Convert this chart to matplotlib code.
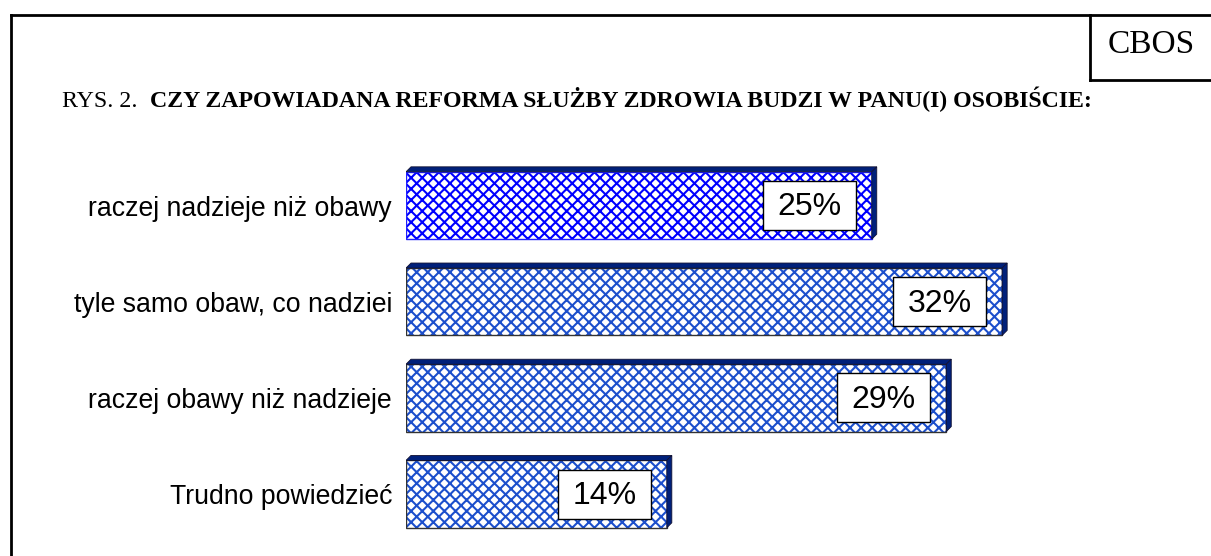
import matplotlib.pyplot as plt
from matplotlib.patches import Polygon, Rectangle
from matplotlib.lines import Line2D

categories = ['raczej nadzieje niż obawy', 'tyle samo obaw, co nadziei',
              'raczej obawy niż nadzieje', 'Trudno powiedzieć']
values = [25, 32, 29, 14]
value_labels = ['25%', '32%', '29%', '14%']

title_prefix = 'RYS. 2.'
title_main = 'CZY ZAPOWIADANA REFORMA SŁUŻBY ZDROWIA BUDZI W PANU(I) OSOBIŚCIE:'

plt.rcParams['hatch.linewidth'] = 1.5

W, H = 1211, 556
fig = plt.figure(figsize=(W / 100, H / 100), dpi=100)

# axes: x 0% at px 406, 18.63 px per percent; category i centred at 205.5 + 96.2*i
px_per_pct = 18.63
px_per_cat = 96.2
ax_left, ax_right = 406, 1206
ax_top_px = 150
ax = fig.add_axes([ax_left / W, 0, (ax_right - ax_left) / W, (H - ax_top_px) / H])
ax.set_xlim(0, (ax_right - ax_left) / px_per_pct)
ax.set_ylim((H - 205.5) / px_per_cat, (ax_top_px - 205.5) / px_per_cat)
for s in ax.spines.values():
    s.set_visible(False)
ax.set_xticks([])

hatch_colors = ['#0000FF', '#1C4FCC', '#1C4FCC', '#1C4FCC']
edge_colors = ['#2020FF', '#333333', '#333333', '#333333']
face_dark = '#00207A'
bar_h = 0.70
dx = 5 / px_per_pct
dy = 5 / px_per_cat

ypos = list(range(len(categories)))
ax.barh(ypos, values, height=bar_h, color='white', edgecolor=hatch_colors,
        hatch='xxx', linewidth=0, zorder=2)
ax.barh(ypos, values, height=bar_h, color='none', edgecolor=edge_colors,
        linewidth=1.0, zorder=3)

box_w = 93 / px_per_pct
box_h = 49 / px_per_cat
box_gap = 16 / px_per_pct
for i, (v, lab) in enumerate(zip(values, value_labels)):
    top = i - bar_h / 2
    bot = i + bar_h / 2
    ax.add_patch(Polygon([(0, top), (dx, top - dy), (v + dx, top - dy), (v, top)],
                         closed=True, facecolor=face_dark, edgecolor='#111133',
                         linewidth=0.6, zorder=3))
    ax.add_patch(Polygon([(v, top), (v + dx, top - dy), (v + dx, bot - dy), (v, bot)],
                         closed=True, facecolor=face_dark, edgecolor='#111133',
                         linewidth=0.6, zorder=3))
    bx = v - box_gap - box_w
    ax.add_patch(Rectangle((bx, i - box_h / 2), box_w, box_h, facecolor='white',
                           edgecolor='black', linewidth=1.0, zorder=4))
    ax.text(bx + box_w / 2, i + 0.02, lab, ha='center', va='center',
            fontsize=23, family='Liberation Sans', zorder=5)

ax.set_yticks(ypos)
ax.set_yticklabels(categories, fontsize=19.2, family='Liberation Sans')
ax.tick_params(axis='y', length=0, pad=10)

# title
fig.text(62 / W, 1 - 107 / H, title_prefix, fontsize=17.2, family='Liberation Serif',
         ha='left', va='baseline')
fig.text(150 / W, 1 - 107 / H, title_main, fontsize=17.2, family='Liberation Serif',
         fontweight='bold', ha='left', va='baseline')

# CBOS tag
fig.text(1151 / W, 1 - 45 / H, 'CBOS', fontsize=24, family='Liberation Serif',
         ha='center', va='center')

# frame
lw = 2.0
fig.add_artist(Line2D([11 / W, 11 / W], [0, 1 - 15 / H], color='black', linewidth=lw))
fig.add_artist(Line2D([11 / W, 1], [1 - 15 / H, 1 - 15 / H], color='black', linewidth=lw))
fig.add_artist(Line2D([1090 / W, 1090 / W], [1 - 15 / H, 1 - 80 / H], color='black', linewidth=lw))
fig.add_artist(Line2D([1090 / W, 1], [1 - 80 / H, 1 - 80 / H], color='black', linewidth=lw))

fig.savefig('out.png', dpi=100)
